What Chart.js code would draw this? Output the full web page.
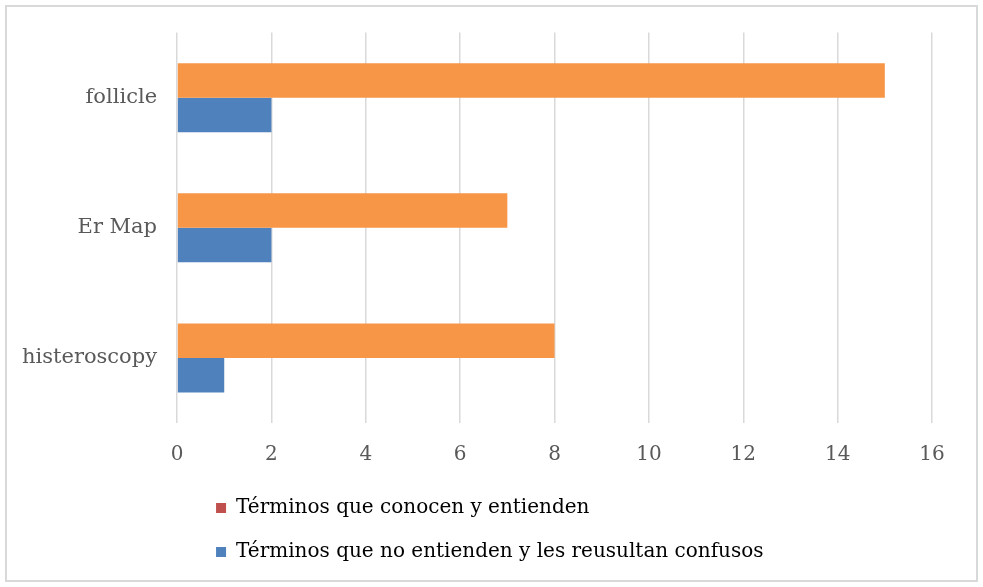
<!DOCTYPE html>
<html>
<head>
<meta charset="utf-8">
<script src="https://cdn.jsdelivr.net/npm/chart.js@4"></script>
<style>
  html, body { margin: 0; padding: 0; background: #fff; }
  #wrap { position: relative; width: 983px; height: 587px; }
  #frame { position: absolute; left: 5px; top: 5px; width: 969px; height: 573px; border: 2px solid #d9d9d9; pointer-events: none; }
</style>
</head>
<body>
<div id="wrap">
  <canvas id="termsChart" width="983" height="587"></canvas>
  <div id="frame"></div>
</div>
<script>
Chart.defaults.color = '#595959';
Chart.defaults.font.family = "'DejaVu Serif', serif";
Chart.defaults.font.size = 20;

const categories = ['follicle', 'Er Map', 'histeroscopy'];
const knownTerms = [15, 7, 8];
const confusingTerms = [2, 2, 1];
const seriesNames = ['Términos que conocen y entienden', 'Términos que no entienden y les reusultan confusos'];
const xTicks = [0, 2, 4, 6, 8, 10, 12, 14, 16];

// legend swatch colours differ from the bar fill in the original
const legendColors = ['#c0504d', '#4f81bd'];

// nudge the legend block so it sits like the original (left-aligned, closer to the axis)
const legendNudge = {
    id: 'legendNudge',
    afterLayout(chart) {
        chart.legend.top -= 13;
        chart.legend.bottom -= 13;
        chart.legend.left += 15;
    }
};

const ctx = document.getElementById('termsChart').getContext('2d');
new Chart(ctx, {
    type: 'bar',
    data: {
        labels: categories,
        datasets: [
            { label: seriesNames[0], data: knownTerms, backgroundColor: '#f79646' },
            { label: seriesNames[1], data: confusingTerms, backgroundColor: '#4f81bd' }
        ]
    },
    plugins: [legendNudge],
    options: {
        indexAxis: 'y',
        responsive: false,
        animation: false,
        layout: { padding: { left: 2, right: 51, top: 31, bottom: 2 } },
        datasets: {
            bar: { categoryPercentage: 0.53, barPercentage: 1 }
        },
        plugins: {
            tooltip: { enabled: false },
            legend: {
                position: 'bottom',
                align: 'start',
                fullSize: false,
                labels: {
                    boxWidth: 10,
                    boxHeight: 10,
                    padding: 24,
                    color: '#505050',
                    generateLabels: chart => chart.data.datasets.map((ds, i) => ({
                        text: ds.label,
                        fillStyle: legendColors[i],
                        strokeStyle: legendColors[i],
                        lineWidth: 0,
                        datasetIndex: i
                    }))
                }
            }
        },
        scales: {
            x: {
                min: 0,
                max: 16,
                afterBuildTicks: axis => { axis.ticks = xTicks.map(v => ({ value: v })); },
                grid: { color: '#d9d9d9', lineWidth: 1.5, drawTicks: false },
                border: { display: false },
                ticks: { padding: 20 }
            },
            y: {
                grid: { display: false, drawTicks: false },
                border: { display: false },
                ticks: { padding: 20, font: { size: 21 } }
            }
        }
    }
});
</script>
</body>
</html>
